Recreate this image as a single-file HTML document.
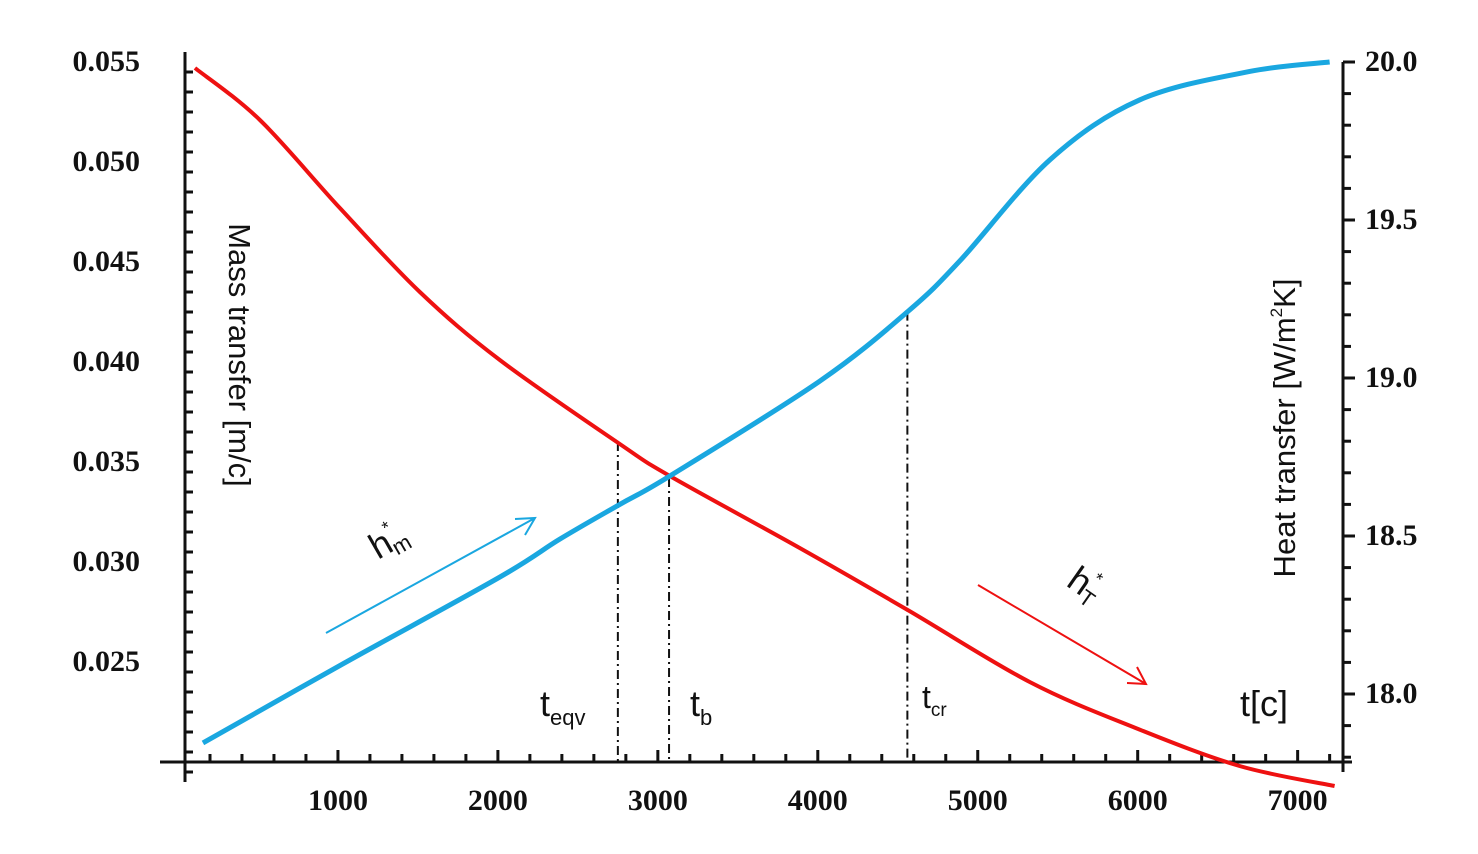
<!DOCTYPE html>
<html><head><meta charset="utf-8">
<style>
html,body{margin:0;padding:0;background:#fff;}
svg{display:block;}
.tk{font-family:"Liberation Serif",serif;font-size:30px;font-weight:bold;fill:#111;}
.lb{font-family:"Liberation Sans",sans-serif;fill:#111;}
</style></head>
<body>
<svg id="chart" width="1478" height="854" viewBox="0 0 1478 854">
<g id="axes"></g>
<g id="marks"></g>
<text class="lb" font-size="31" transform="translate(229,355) rotate(90)" text-anchor="middle">Mass transfer [m/c]</text>
<text class="lb" font-size="31" transform="translate(1295,428) rotate(-90)" text-anchor="middle">Heat transfer [W/m<tspan font-size="17" dy="-13">2</tspan><tspan dy="13">K]</tspan></text>
<text class="lb" font-size="36" transform="translate(378,560) rotate(-30)">h<tspan font-size="18" dy="-18">*</tspan><tspan font-size="22" dy="24" dx="-8">m</tspan></text>
<text class="lb" font-size="36" transform="translate(1065,585) rotate(35)">h<tspan font-size="18" dy="-18">*</tspan><tspan font-size="22" dy="24" dx="-8">T</tspan></text>
<text class="lb" font-size="36" x="540" y="716">t<tspan font-size="22" dy="9">eqv</tspan></text>
<text class="lb" font-size="36" x="690" y="716">t<tspan font-size="22" dy="9">b</tspan></text>
<text class="lb" font-size="32" x="922" y="708">t<tspan font-size="19" dy="8">cr</tspan></text>
<text class="lb" font-size="36" x="1240" y="716">t[c]</text>
</svg>
<script>
const xTicks=[1000,2000,3000,4000,5000,6000,7000];
const leftTicks=[0.055,0.050,0.045,0.040,0.035,0.030,0.025];
const rightTicks=[20.0,19.5,19.0,18.5,18.0];
const massT=[106,512,1012,1512,2012,2762,3075,3887,4562,5325,5987,6637,7231];
const massV=[0.0547,0.0521,0.0477,0.0435,0.0401,0.0359,0.0343,0.0307,0.0276,0.0240,0.0217,0.0198,0.0188];
const heatT=[156,1012,2012,2387,2762,3075,4012,4562,4887,5450,6012,6700,7200];
const heatV=[17.845,18.09,18.37,18.49,18.60,18.69,18.99,19.21,19.37,19.69,19.88,19.97,20.0];
const markerT=[2750,3070,4560];
const markerTop=[0.0360,0.0342,19.21];

const NS="http://www.w3.org/2000/svg";
const X=t=>178+t*0.15995;
const YL=v=>62+(0.055-v)*20000;
const YR=v=>62+(20-v)*316;
const axes=document.getElementById('axes'), marks=document.getElementById('marks');
function mk(tag,attrs,parent){const e=document.createElementNS(NS,tag);for(const k in attrs)e.setAttribute(k,attrs[k]);parent.appendChild(e);return e;}

let e;
e=mk('line',{x1:160,y1:762,x2:1352,y2:762,stroke:'#111','stroke-width':3},axes);


e=mk('line',{x1:185,y1:52,x2:185,y2:782,stroke:'#111','stroke-width':3},axes);


e=mk('line',{x1:1343,y1:62,x2:1343,y2:772,stroke:'#111','stroke-width':3},axes);



for(let t=200;t<=7200;t+=200){
  const major=t%1000===0;
  e=mk('line',{x1:X(t),y1:762,x2:X(t),y2:major?750:754,stroke:'#111','stroke-width':3},axes);
  
  
}
xTicks.forEach(t=>{
  e=mk('text',{x:X(t),y:810,'text-anchor':'middle',class:'tk'},axes);e.textContent=t;
  
  
});
for(let v=0.0195;v<=0.0551;v+=0.001){
  const y=YL(v);
  e=mk('line',{x1:185,y1:y,x2:Math.abs((v*1000)%5)<0.01||Math.abs((v*1000)%5-5)<0.01?197:193,y2:y,stroke:'#111','stroke-width':3},axes);
  
  
}
leftTicks.forEach(v=>{
  e=mk('text',{x:140,y:YL(v)+9,'text-anchor':'end',class:'tk'},axes);e.textContent=v.toFixed(3);
  
  
});
for(let v=17.8;v<=20.001;v+=0.1){
  const y=YR(v);
  e=mk('line',{x1:1343,y1:y,x2:Math.abs(v*2-Math.round(v*2))<0.01?1355:1351,y2:y,stroke:'#111','stroke-width':3},axes);
  
  
}
rightTicks.forEach(v=>{
  e=mk('text',{x:1365,y:YR(v)+9,class:'tk'},axes);e.textContent=v.toFixed(1);
  
  
});

function smooth(pts){
  let d='M'+pts[0][0]+','+pts[0][1];
  for(let i=0;i<pts.length-1;i++){
    const p0=pts[i-1]||pts[i],p1=pts[i],p2=pts[i+1],p3=pts[i+2]||p2;
    const c1=[p1[0]+(p2[0]-p0[0])/6,p1[1]+(p2[1]-p0[1])/6];
    const c2=[p2[0]-(p3[0]-p1[0])/6,p2[1]-(p3[1]-p1[1])/6];
    d+=' C'+c1+' '+c2+' '+p2;
  }
  return d;
}
markerT.forEach((t,i)=>{
  const top=i<2?YL(markerTop[i]):YR(markerTop[i]);
  e=mk('line',{x1:X(t),y1:top,x2:X(t),y2:762,stroke:'#111','stroke-width':2,'stroke-dasharray':'9,4,2,4'},marks);
  
  
});
e=mk('path',{d:smooth(massT.map((t,i)=>[X(t),YL(massV[i])])),fill:'none',stroke:'#ee1111','stroke-width':4},marks);


e=mk('path',{d:smooth(heatT.map((t,i)=>[X(t),YR(heatV[i])])),fill:'none',stroke:'#1aa7e0','stroke-width':5},marks);



e=mk('path',{d:'M326,633 L535,518 M515,519 L535,518 L525,535',fill:'none',stroke:'#1aa7e0','stroke-width':2},marks);


e=mk('path',{d:'M978,585 L1146,684 M1127,683 L1146,684 L1137,667',fill:'none',stroke:'#ee1111','stroke-width':2},marks);


</script>
</body></html>
